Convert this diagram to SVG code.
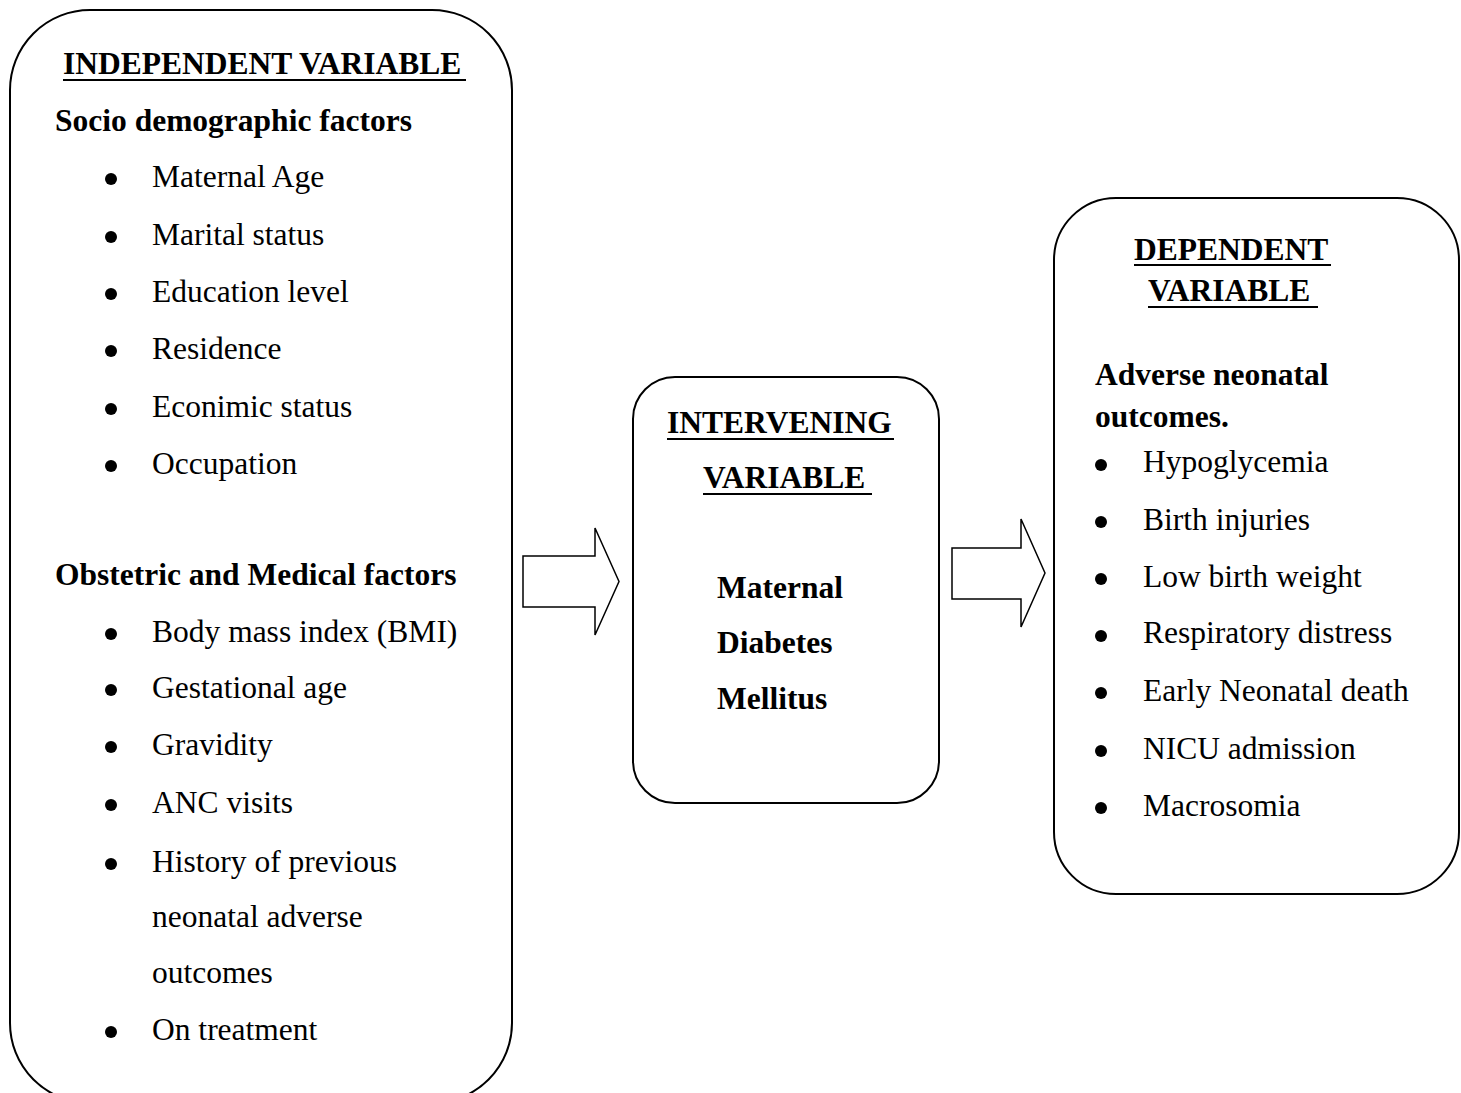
<svg xmlns="http://www.w3.org/2000/svg" width="1461" height="1093" viewBox="0 0 1461 1093">
<style>
.box{fill:#fff;stroke:#000;stroke-width:2}
.arr{fill:#fff;stroke:#000;stroke-width:1.5;stroke-linejoin:miter}
text{font-family:"Liberation Serif","Times New Roman",serif;font-size:31.5px;fill:#000}
.b{font-weight:bold}
.ul{stroke:#000;stroke-width:2}
.dot{fill:#000}
</style>
<rect width="1461" height="1093" fill="#fff"/>
<g id="connectors">
<polygon class="arr" points="523,556 595,556 595,528 619,581.5 595,635 595,607 523,607"/>
<polygon class="arr" points="952,548 1021,548 1021,519 1045,573 1021,627 1021,599 952,599"/>
</g>
<g id="independent">
<rect class="box" x="10" y="10" width="502" height="1093" rx="80" ry="80"/>
<text class="b" x="63" y="74">INDEPENDENT VARIABLE</text>
<line class="ul" x1="63" y1="80" x2="466" y2="80"/>
<text class="b" x="55" y="131">Socio demographic factors</text>
<g class="dot">
<circle cx="111" cy="179" r="6"/>
<circle cx="111" cy="237" r="6"/>
<circle cx="111" cy="294" r="6"/>
<circle cx="111" cy="351" r="6"/>
<circle cx="111" cy="409" r="6"/>
<circle cx="111" cy="466" r="6"/>
<circle cx="111" cy="634" r="6"/>
<circle cx="111" cy="690" r="6"/>
<circle cx="111" cy="747" r="6"/>
<circle cx="111" cy="805" r="6"/>
<circle cx="111" cy="864" r="6"/>
<circle cx="111" cy="1032" r="6"/>
</g>
<text x="152" y="187">Maternal Age</text>
<text x="152" y="245">Marital status</text>
<text x="152" y="302">Education level</text>
<text x="152" y="359">Residence</text>
<text x="152" y="417">Econimic status</text>
<text x="152" y="474">Occupation</text>
<text class="b" x="55" y="585">Obstetric and Medical factors</text>
<text x="152" y="642">Body mass index (BMI)</text>
<text x="152" y="698">Gestational age</text>
<text x="152" y="755">Gravidity</text>
<text x="152" y="813">ANC visits</text>
<text x="152" y="872">History of previous</text>
<text x="152" y="927">neonatal adverse</text>
<text x="152" y="983">outcomes</text>
<text x="152" y="1040">On treatment</text>
</g>
<g id="intervening">
<rect class="box" x="633" y="377" width="306" height="426" rx="42" ry="42"/>
<text class="b" x="667" y="433">INTERVENING</text>
<line class="ul" x1="667" y1="439" x2="894" y2="439"/>
<text class="b" x="703" y="488">VARIABLE</text>
<line class="ul" x1="703" y1="494" x2="872" y2="494"/>
<text class="b" x="717" y="598">Maternal</text>
<text class="b" x="717" y="653">Diabetes</text>
<text class="b" x="717" y="709">Mellitus</text>
</g>
<g id="dependent">
<rect class="box" x="1054" y="198" width="405" height="696" rx="62" ry="62"/>
<text class="b" x="1134" y="260">DEPENDENT</text>
<line class="ul" x1="1134" y1="265" x2="1331" y2="265"/>
<text class="b" x="1148" y="301">VARIABLE</text>
<line class="ul" x1="1148" y1="307" x2="1318" y2="307"/>
<text class="b" x="1095" y="385">Adverse neonatal</text>
<text class="b" x="1095" y="427">outcomes.</text>
<g class="dot">
<circle cx="1101" cy="465" r="6"/>
<circle cx="1101" cy="522" r="6"/>
<circle cx="1101" cy="579" r="6"/>
<circle cx="1101" cy="636" r="6"/>
<circle cx="1101" cy="693" r="6"/>
<circle cx="1101" cy="751" r="6"/>
<circle cx="1101" cy="808" r="6"/>
</g>
<text x="1143" y="472">Hypoglycemia</text>
<text x="1143" y="530">Birth injuries</text>
<text x="1143" y="587">Low birth weight</text>
<text x="1143" y="643">Respiratory distress</text>
<text x="1143" y="701">Early Neonatal death</text>
<text x="1143" y="759">NICU admission</text>
<text x="1143" y="816">Macrosomia</text>
</g>
</svg>
